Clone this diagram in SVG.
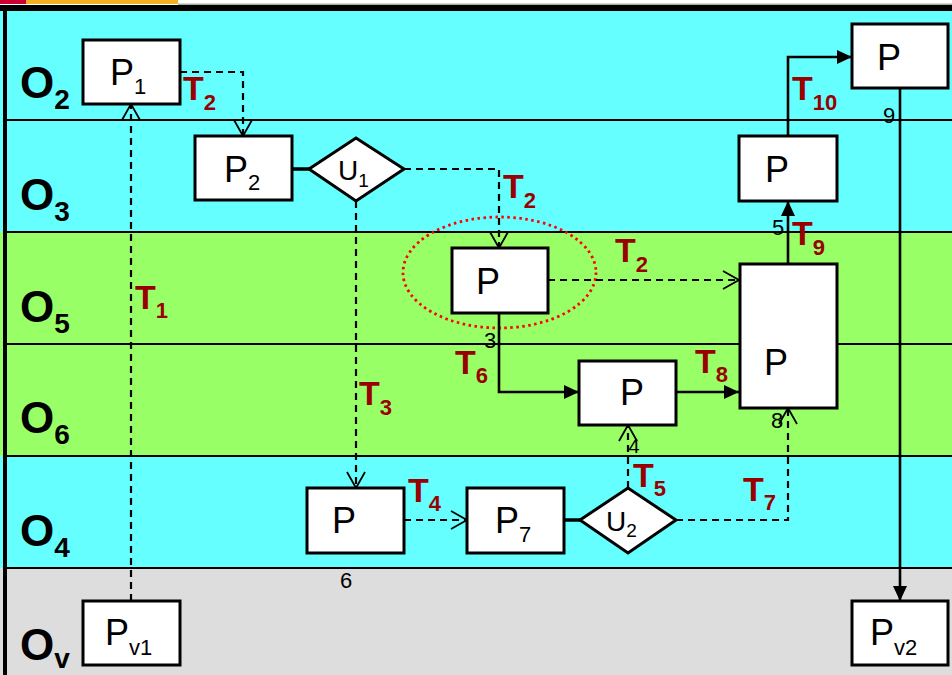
<svg xmlns="http://www.w3.org/2000/svg" width="952" height="675" viewBox="0 0 952 675">
<style>
.box{fill:#fff;stroke:#000;stroke-width:3}
.lane-line{stroke:#000;stroke-width:2.2}
.p{font-family:"Liberation Sans",Arial,sans-serif;font-size:36px;fill:#000}
.ps{font-size:22px}
.u{font-family:"Liberation Sans",Arial,sans-serif;font-size:28px;fill:#000}
.us{font-size:19px}
.o{font-family:"Liberation Sans",Arial,sans-serif;font-size:44px;font-weight:bold;fill:#000}
.os{font-size:28px}
.t{font-family:"Liberation Sans",Arial,sans-serif;font-size:34px;font-weight:bold;fill:#990000}
.ts{font-size:22px}
.n{font-family:"Liberation Sans",Arial,sans-serif;font-size:22px;fill:#000;text-anchor:middle}
.dash{fill:none;stroke:#000;stroke-width:2.2;stroke-dasharray:7 5;marker-end:url(#open)}
.solid{fill:none;stroke:#000;stroke-width:2.6;marker-end:url(#filled)}
.link{fill:none;stroke:#000;stroke-width:3.5}
</style>
<defs>
<marker id="open" markerUnits="userSpaceOnUse" markerWidth="20" markerHeight="22" viewBox="-1 -11 19 22" refX="16" refY="0" orient="auto">
<path d="M0,-9 L16,0 L0,9" fill="none" stroke="#000" stroke-width="1.8"/>
</marker>
<marker id="filled" markerUnits="userSpaceOnUse" markerWidth="17" markerHeight="16" viewBox="0 -8 17 16" refX="15" refY="0" orient="auto">
<path d="M0,-7 L15,0 L0,7 z" fill="#000"/>
</marker>
</defs>

<!-- background lanes -->
<g id="lanes">
<rect x="0" y="0" width="952" height="675" fill="#ffffff"/>
<rect x="0" y="0" width="26" height="4" fill="#cc0033"/>
<rect x="26" y="0" width="152" height="4" fill="#f5b022"/>
<rect x="178" y="3.5" width="774" height="1.5" fill="#aaaaaa"/>
<rect x="0" y="10" width="952" height="110" fill="#66ffff"/>
<rect x="0" y="120" width="952" height="112" fill="#66ffff"/>
<rect x="0" y="232" width="952" height="112" fill="#99ff66"/>
<rect x="0" y="344" width="952" height="112" fill="#99ff66"/>
<rect x="0" y="456" width="952" height="112" fill="#66ffff"/>
<rect x="0" y="568" width="952" height="107" fill="#dddddd"/>
<rect x="0" y="5" width="952" height="6" fill="#000"/>
<rect x="3" y="5" width="4" height="670" fill="#000"/>
<line class="lane-line" x1="5" y1="120" x2="952" y2="120"/>
<line class="lane-line" x1="5" y1="232" x2="952" y2="232"/>
<line class="lane-line" x1="5" y1="344" x2="952" y2="344"/>
<line class="lane-line" x1="5" y1="456" x2="952" y2="456"/>
<line class="lane-line" x1="5" y1="568" x2="952" y2="568"/>
<text class="o" x="20" y="98">O<tspan class="os" dy="11">2</tspan></text>
<text class="o" x="20" y="210">O<tspan class="os" dy="11">3</tspan></text>
<text class="o" x="20" y="322">O<tspan class="os" dy="11">5</tspan></text>
<text class="o" x="20" y="433">O<tspan class="os" dy="11">6</tspan></text>
<text class="o" x="20" y="546">O<tspan class="os" dy="11">4</tspan></text>
<text class="o" x="20" y="660">O<tspan class="os" dy="8">v</tspan></text>
</g>

<ellipse id="highlight" cx="499.5" cy="272.5" rx="96.5" ry="55.5" fill="none" stroke="#ff0000" stroke-width="2.8" stroke-dasharray="2.5 3.5"/>

<g id="connectors">
<path class="dash" d="M131,601 L131,104"/>
<path class="dash" d="M180,72 L243,72 L243,136"/>
<path class="link" d="M292,169 L309,169"/>
<path class="dash" d="M404,169 L499,169 L499,248"/>
<path class="dash" d="M356,201 L356,488"/>
<path class="dash" d="M548,280 L739,280"/>
<path class="solid" d="M499,313 L499,392 L579,392"/>
<path class="solid" d="M676,392 L739,392"/>
<path class="dash" d="M404,520 L467,520"/>
<path class="link" d="M564,520 L580,520"/>
<path class="dash" d="M628,488 L628,425"/>
<path class="dash" d="M676,520 L788,520 L788,408"/>
<path class="solid" d="M788,264 L788,201"/>
<path class="solid" d="M788,136 L788,57 L852,57"/>
<path class="solid" d="M900,88 L900,601"/>
<text class="t" x="183" y="100">T<tspan class="ts" dy="10">2</tspan></text>
<text class="t" x="503" y="198">T<tspan class="ts" dy="10">2</tspan></text>
<text class="t" x="615" y="262">T<tspan class="ts" dy="10">2</tspan></text>
<text class="t" x="135" y="309">T<tspan class="ts" dy="9">1</tspan></text>
<text class="t" x="359" y="405">T<tspan class="ts" dy="10">3</tspan></text>
<text class="t" x="408" y="502">T<tspan class="ts" dy="9">4</tspan></text>
<text class="t" x="633" y="487">T<tspan class="ts" dy="9">5</tspan></text>
<text class="t" x="455" y="374">T<tspan class="ts" dy="9">6</tspan></text>
<text class="t" x="743" y="501">T<tspan class="ts" dy="9">7</tspan></text>
<text class="t" x="695" y="373">T<tspan class="ts" dy="9">8</tspan></text>
<text class="t" x="792" y="245">T<tspan class="ts" dy="10">9</tspan></text>
<text class="t" x="792" y="100">T<tspan class="ts" dy="10">10</tspan></text>
<text class="n" x="490" y="348">3</text>
<text class="n" x="634" y="453" style="font-size:20px">4</text>
<text class="n" x="778" y="235">5</text>
<text class="n" x="346" y="588">6</text>
<text class="n" x="777" y="428">8</text>
<text class="n" x="889" y="123">9</text>
</g>

<g id="P1"><rect class="box" x="83" y="40" width="97" height="64"/><text class="p" x="110" y="85">P<tspan class="ps" dy="9">1</tspan></text></g>
<g id="P2"><rect class="box" x="195" y="136" width="97" height="64"/><text class="p" x="224" y="182">P<tspan class="ps" dy="8">2</tspan></text></g>
<g id="U1"><polygon class="box" points="309,169 356,138 404,169 356,201"/><text class="u" x="338" y="180">U<tspan class="us" dy="7">1</tspan></text></g>
<g id="P3"><rect class="box" x="452" y="248" width="96" height="65"/><text class="p" x="476" y="294">P</text></g>
<g id="P4"><rect class="box" x="579" y="361" width="97" height="64"/><text class="p" x="620" y="405">P</text></g>
<g id="P8"><rect class="box" x="740" y="264" width="97" height="144"/><text class="p" x="764" y="375">P</text></g>
<g id="P5"><rect class="box" x="739" y="136" width="98" height="65"/><text class="p" x="765" y="182">P</text></g>
<g id="P9"><rect class="box" x="852" y="24" width="96" height="64"/><text class="p" x="877" y="70">P</text></g>
<g id="P6"><rect class="box" x="307" y="488" width="97" height="65"/><text class="p" x="332" y="533">P</text></g>
<g id="P7"><rect class="box" x="467" y="488" width="97" height="65"/><text class="p" x="495" y="533">P<tspan class="ps" dy="9">7</tspan></text></g>
<g id="U2"><polygon class="box" points="580,520 628,488 676,520 628,553"/><text class="u" x="606" y="531">U<tspan class="us" dy="6">2</tspan></text></g>
<g id="Pv1"><rect class="box" x="83" y="601" width="97" height="64"/><text class="p" x="105" y="645">P<tspan class="ps" dy="10">v1</tspan></text></g>
<g id="Pv2"><rect class="box" x="852" y="601" width="96" height="64"/><text class="p" x="870" y="645">P<tspan class="ps" dy="10">v2</tspan></text></g>
</svg>
